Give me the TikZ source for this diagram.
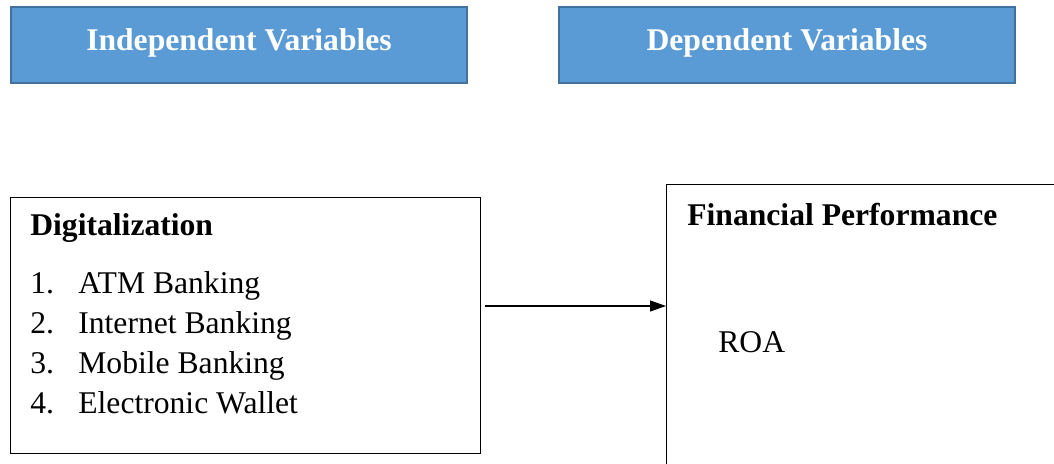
\documentclass[tikz,border=0pt]{standalone}
\usepackage{fontspec}
\setmainfont{Liberation Serif}
\usetikzlibrary{arrows.meta}

\definecolor{headblue}{HTML}{5B9BD5}
\definecolor{headedge}{HTML}{41719C}

\tikzset{
  headbox/.style={draw=headedge, line width=1.2pt, fill=headblue,
    minimum width=9.12cm, minimum height=1.52cm, inner sep=0pt},
  headtext/.style={text=white, inner sep=0pt, font=\bfseries\fontsize{18}{22}\selectfont},
  varbox/.style={draw=black, line width=0.6pt, inner sep=0pt, anchor=north west},
  boxtext/.style={anchor=base west, inner sep=0pt, font=\fontsize{18}{22}\selectfont}
}

\begin{document}
\begin{tikzpicture}[x=0.02cm,y=-0.02cm]
\useasboundingbox (0,0) rectangle (1054,463);
\clip (0,0) rectangle (1054,463);

% ---------- headings ----------
\node[headbox] (indep) at (239,45) {};
\node[headtext, anchor=base] (indeptext) at (239,50) {Independent Variables};
\node[headbox] (dep) at (787,45) {};
\node[headtext, anchor=base] (deptext) at (787,50) {Dependent Variables};

% ---------- Digitalization ----------
\node[varbox, minimum width=9.4cm, minimum height=5.12cm] (digital) at (10,197) {};
\node[boxtext, font=\bfseries\fontsize{18}{22}\selectfont] (digtitle) at (30,235) {Digitalization};
\foreach \n/\item in {1/ATM Banking, 2/Internet Banking, 3/Mobile Banking, 4/Electronic Wallet} {
  \node[boxtext] (num\n) at (30,253+40*\n) {\n.};
  \node[boxtext] (item\n) at (78,253+40*\n) {\item};
}

% ---------- Financial Performance ----------
\node[varbox, minimum width=9cm, minimum height=7cm] (finperf) at (666,184) {};
\node[boxtext, font=\bfseries\fontsize{18}{22}\selectfont] (fintitle) at (687,225) {Financial Performance};
\node[boxtext] (roa) at (718,352) {ROA};

% ---------- arrow ----------
\coordinate (arrstart) at (485,306);
\draw[line width=0.6pt, -{Triangle[length=0.32cm, width=0.22cm]}] (arrstart) -- (arrstart -| finperf.west);

\end{tikzpicture}
\end{document}
